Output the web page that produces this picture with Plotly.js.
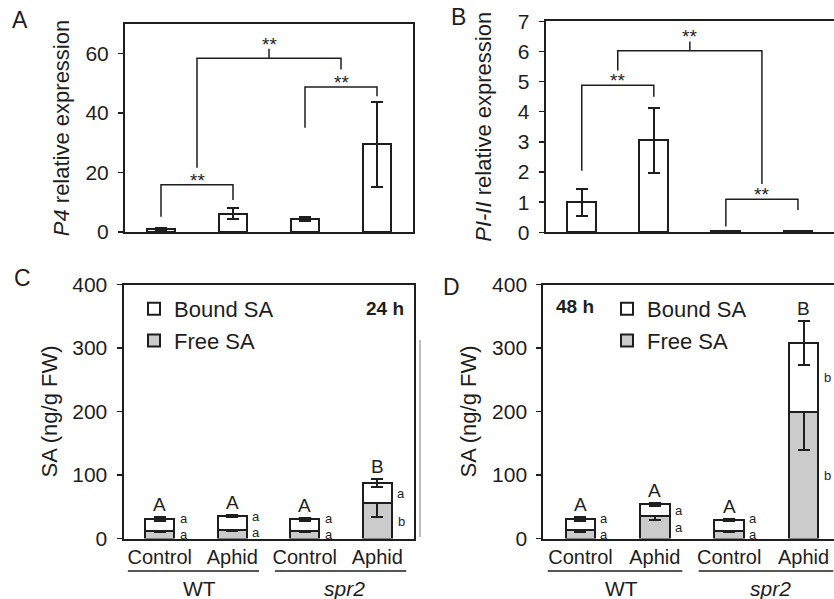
<!DOCTYPE html>
<html><head><meta charset="utf-8">
<script src="https://cdn.plot.ly/plotly-3.0.1.min.js"></script>
<style>html,body{margin:0;padding:0;background:#fff;overflow:hidden}#chart{width:834px;height:599px}</style>
</head><body><div id="chart"></div>
<script>
const W = 834, H = 599;
// categories
const treatments = ['Control', 'Aphid', 'Control', 'Aphid'];
const genotypes = ['WT', 'spr2'];
const catIdx = [0, 1, 2, 3];
// Panel A: P4 relative expression
const p4Mean = [1.0, 6.2, 4.4, 29.5];
const p4Err = [0.3, 1.9, 0.7, 14.2];
// Panel B: PI-II relative expression
const pi2Mean = [1.0, 3.05, 0.03, 0.03];
const pi2Err = [0.45, 1.07, 0.01, 0.01];
// Panel C: SA 24 h
const freeSA24 = [12, 14, 12, 56];
const freeSA24Err = [2, 2, 2, 22];
const boundSA24 = [18.3, 21.5, 18, 31.5];
const totalSA24Err = [3, 2, 3, 6];
// Panel D: SA 48 h
const freeSA48 = [13, 35, 12, 200];
const freeSA48Err = [2, 6, 2, 61];
const boundSA48 = [17.4, 18.6, 17, 108];
const totalSA48Err = [3, 2, 2, 35];
// significance letters
const letters24Total = ['A', 'A', 'A', 'B'];
const letters24Bound = ['a', 'a', 'a', 'a'];
const letters24Free = ['a', 'a', 'a', 'b'];
const letters48Total = ['A', 'A', 'A', 'B'];
const letters48Bound = ['a', 'a', 'a', 'b'];
const letters48Free = ['a', 'a', 'a', 'b'];
// significance brackets (category from/to, heights in data units)
const p4BrFrom = [0, 2, 0.5], p4BrTo = [1, 3, 2.5];
const p4BrTop = [15.9, 48.8, 58.5], p4BrLeftEnd = [5.1, 35.1, 21.6], p4BrRightEnd = [10.8, 45.7, 54.7], p4BrTick = [0, 0, 3.2];
const pi2BrFrom = [0, 2, 0.5], pi2BrTo = [1, 3, 2.5];
const pi2BrTop = [4.88, 1.1, 6.02], pi2BrLeftEnd = [2.04, 0.19, 5.37], pi2BrRightEnd = [4.5, 0.74, 1.6], pi2BrTick = [0, 0, 0.31];
const brLabel = ['**', '**', '**'];

const FONT = 'Liberation Sans, Arial, Helvetica, sans-serif';
const INK = '#1e1e1e';
const GRAY = '#cbcbcb';
const px = x => x / W;
const py = y => 1 - y / H;

function add(a, b) { return a.map((v, i) => v + b[i]); }

const errStyle = {type: 'data', visible: true, color: INK, thickness: 2, width: 6};
const barLine = {color: INK, width: 2};

const traces = [];
traces.push({type: 'bar', x: catIdx, y: p4Mean, width: 0.4, xaxis: 'x', yaxis: 'y', showlegend: false,
  marker: {color: '#fff', line: barLine}, error_y: Object.assign({array: p4Err}, errStyle), hoverinfo: 'y'});
traces.push({type: 'bar', x: catIdx, y: pi2Mean, width: 0.4, xaxis: 'x2', yaxis: 'y2', showlegend: false,
  marker: {color: '#fff', line: barLine}, error_y: Object.assign({array: pi2Err}, errStyle), hoverinfo: 'y'});
traces.push({type: 'bar', name: 'Free SA', x: catIdx, y: freeSA24, width: 0.4, xaxis: 'x3', yaxis: 'y3', legend: 'legend',
  marker: {color: GRAY, line: barLine}, error_y: Object.assign({array: freeSA24Err}, errStyle)});
traces.push({type: 'bar', name: 'Bound SA', x: catIdx, y: boundSA24, width: 0.4, xaxis: 'x3', yaxis: 'y3', legend: 'legend',
  marker: {color: '#fff', line: barLine}, error_y: Object.assign({array: totalSA24Err}, errStyle)});
traces.push({type: 'bar', name: 'Free SA', x: catIdx, y: freeSA48, width: 0.4, xaxis: 'x4', yaxis: 'y4', legend: 'legend2',
  marker: {color: GRAY, line: barLine}, error_y: Object.assign({array: freeSA48Err}, errStyle)});
traces.push({type: 'bar', name: 'Bound SA', x: catIdx, y: boundSA48, width: 0.4, xaxis: 'x4', yaxis: 'y4', legend: 'legend2',
  marker: {color: '#fff', line: barLine}, error_y: Object.assign({array: totalSA48Err}, errStyle)});

const shapes = [];
const annotations = [];

function brackets(xr, yr, from, to, top, le, re, tick, labels) {
  from.forEach((f, i) => {
    const t = to[i];
    shapes.push({type: 'path', xref: xr, yref: yr,
      path: `M${f},${le[i]} L${f},${top[i]} L${t},${top[i]} L${t},${re[i]}`,
      line: {color: INK, width: 1.5}});
    const mid = (f + t) / 2;
    if (tick[i] > 0) {
      shapes.push({type: 'line', xref: xr, yref: yr, x0: mid, x1: mid, y0: top[i], y1: top[i] + tick[i],
        line: {color: INK, width: 1.5}});
    }
    annotations.push({xref: xr, yref: yr, x: mid, y: top[i] + tick[i], text: labels[i], showarrow: false,
      yanchor: 'bottom', yshift: -8, font: {size: 19, color: INK, family: FONT}});
  });
}
brackets('x', 'y', p4BrFrom, p4BrTo, p4BrTop, p4BrLeftEnd, p4BrRightEnd, p4BrTick, brLabel);
brackets('x2', 'y2', pi2BrFrom, pi2BrTo, pi2BrTop, pi2BrLeftEnd, pi2BrRightEnd, pi2BrTick, brLabel);

function letters(xr, yr, free, bound, totErr, tl, bl, fl) {
  const total = add(free, bound);
  catIdx.forEach(i => {
    annotations.push({xref: xr, yref: yr, x: i, y: total[i] + totErr[i], text: tl[i], showarrow: false,
      yanchor: 'bottom', yshift: 0, font: {size: 19, color: INK, family: FONT}});
    let fm = free[i] / 2, bm = free[i] + bound[i] / 2;
    if (bm - fm < 25) { const c = total[i] / 2 + 5; fm = c - 12.5; bm = c + 12.5; }
    annotations.push({xref: xr, yref: yr, x: i, y: bm, text: bl[i], showarrow: false, xshift: 24,
      height: 12, valign: 'middle', borderpad: 0, font: {size: 13, color: INK, family: FONT}});
    annotations.push({xref: xr, yref: yr, x: i, y: fm, text: fl[i], showarrow: false, xshift: 24,
      height: 12, valign: 'middle', borderpad: 0, font: {size: 13, color: INK, family: FONT}});
  });
}
letters('x3', 'y3', freeSA24, boundSA24, totalSA24Err, letters24Total, letters24Bound, letters24Free);
letters('x4', 'y4', freeSA48, boundSA48, totalSA48Err, letters48Total, letters48Bound, letters48Free);

// genotype group lines and labels
function groups(xr) {
  const spans = [[-0.44, 1.37], [1.59, 3.4]];
  spans.forEach((s, g) => {
    shapes.push({type: 'line', xref: xr, yref: 'paper', x0: s[0], x1: s[1], y0: py(571), y1: py(571),
      line: {color: INK, width: 1.5}});
    annotations.push({xref: xr, yref: 'paper', x: g * 2 + 0.55, y: py(588), yanchor: 'middle',
      text: g === 1 ? '<i>' + genotypes[g] + '</i>' : genotypes[g], showarrow: false,
      font: {size: 21, color: INK, family: FONT}});
  });
}
groups('x3');
groups('x4');

// faint panel border seen between C and D
shapes.push({type: 'line', xref: 'paper', yref: 'paper', x0: px(420), x1: px(420), y0: py(340), y1: py(537),
  line: {color: '#a8a8a8', width: 1.5}});

// panel letters and time labels
[['A', 20, 20], ['B', 458, 17], ['C', 22, 278], ['D', 452, 287]].forEach(p => {
  annotations.push({xref: 'paper', yref: 'paper', x: px(p[1]), y: py(p[2]), text: p[0], showarrow: false,
    xanchor: 'center', yanchor: 'middle', font: {size: 23, color: INK, family: FONT}});
});
annotations.push({xref: 'paper', yref: 'paper', x: px(406), y: py(308), xanchor: 'right', yanchor: 'middle',
  text: '<b>24 h</b>', showarrow: false, font: {size: 19, color: INK, family: FONT}});
annotations.push({xref: 'paper', yref: 'paper', x: px(554), y: py(307), xanchor: 'left', yanchor: 'middle',
  text: '<b>48 h</b>', showarrow: false, font: {size: 19, color: INK, family: FONT}});

const tickFont = {size: 21, color: INK, family: FONT};
const titleFont = {size: 22, color: INK, family: FONT};
function xax(domain, range, labels, mirror) {
  return {domain: domain, range: range, showgrid: false, zeroline: false,
    showline: true, mirror: mirror, linecolor: INK, linewidth: 2, ticks: '',
    tickvals: catIdx, ticktext: labels ? treatments : catIdx.map(() => ''), showticklabels: !!labels,
    tickfont: {size: 20, color: INK, family: FONT}, ticklabelstandoff: -1, fixedrange: true};
}
function yax(domain, range, tickvals, title, standoff, mirror) {
  return {domain: domain, range: range, showgrid: false, zeroline: false, showline: true, mirror: mirror,
    linecolor: INK, linewidth: 2, ticks: 'outside', ticklen: 5, tickwidth: 1.5, tickcolor: INK,
    tickvals: tickvals, tickfont: tickFont, ticklabelstandoff: 5,
    title: {text: title, font: titleFont, standoff: standoff}, fixedrange: true};
}

const legendBase = {xanchor: 'left', yanchor: 'top', bgcolor: 'rgba(0,0,0,0)', borderwidth: 0,
  font: {size: 22, color: INK, family: FONT}, traceorder: 'reversed', itemclick: false, itemdoubleclick: false};

const layout = {
  width: W, height: H, margin: {l: 0, r: 0, t: 0, b: 0}, paper_bgcolor: '#fff', plot_bgcolor: '#fff',
  barmode: 'stack', bargap: 0.6, font: {family: FONT, color: INK},
  xaxis: Object.assign(xax([px(125), px(413)], [-0.5, 3.5], false, true), {anchor: 'y'}),
  yaxis: Object.assign(yax([py(232), py(24)], [0, 70], [0, 20, 40, 60], '<i>P4</i> relative expression', 10, true), {anchor: 'x'}),
  xaxis2: Object.assign(xax([px(545.7), 1], [-0.5, 3.5], false, true), {anchor: 'y2'}),
  yaxis2: Object.assign(yax([py(232.3), py(21.3)], [0, 7], [0, 1, 2, 3, 4, 5, 6, 7], '<i>PI-II</i> relative expression', 20, false), {anchor: 'x2'}),
  xaxis3: Object.assign(xax([px(123.5), px(413.5)], [-0.5, 3.5], true, true), {anchor: 'y3'}),
  yaxis3: Object.assign(yax([py(538.5), py(284.5)], [0, 400], [0, 100, 200, 300, 400], 'SA (ng/g FW)', 9, true), {anchor: 'x3'}),
  xaxis4: Object.assign(xax([px(543.3), 1], [-0.5, 3.41], true, true), {anchor: 'y4'}),
  yaxis4: Object.assign(yax([py(538.5), py(284.5)], [0, 400], [0, 100, 200, 300, 400], 'SA (ng/g FW)', 9, false), {anchor: 'x4'}),
  legend: Object.assign({x: px(134), y: py(288)}, legendBase),
  legend2: Object.assign({x: px(607), y: py(288)}, legendBase),
  shapes: shapes, annotations: annotations
};

Plotly.newPlot('chart', traces, layout, {displayModeBar: false, staticPlot: true});
</script>
</body></html>
